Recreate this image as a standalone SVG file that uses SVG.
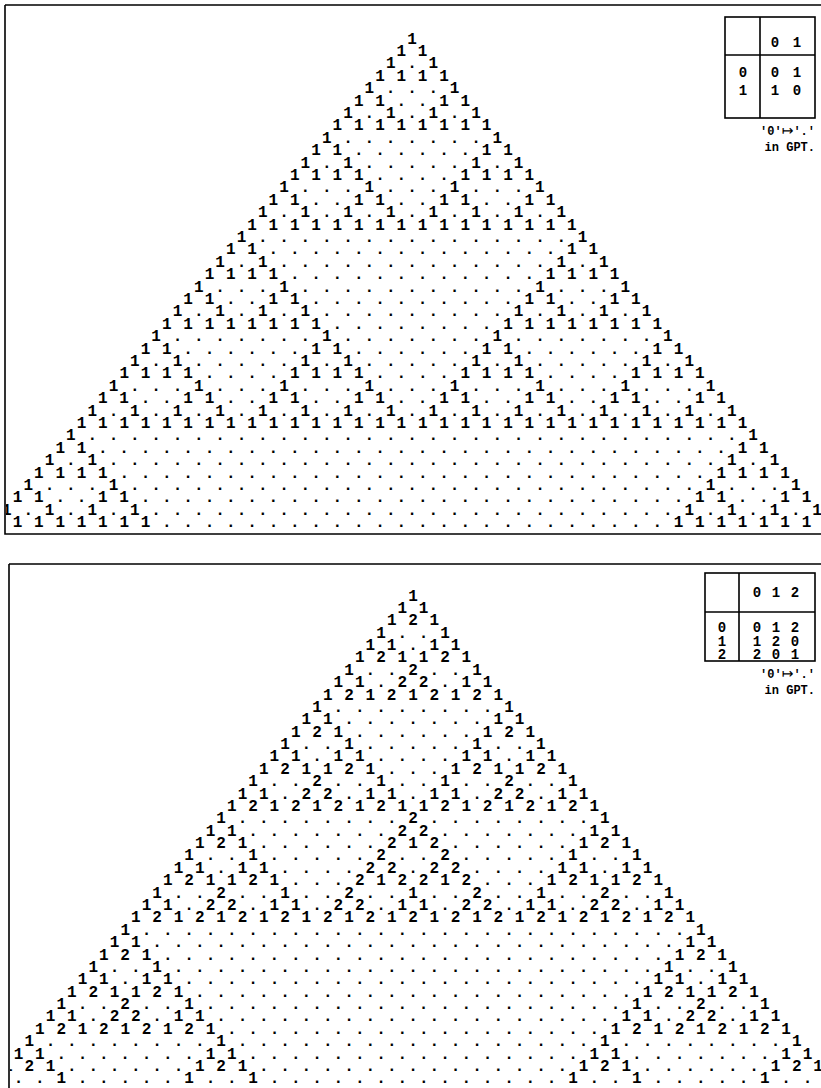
<svg xmlns="http://www.w3.org/2000/svg" width="821" height="1088" viewBox="0 0 821 1088">
<style>
.bg{fill:#fff}
.f{fill:none;stroke:#000;stroke-width:1.6}
.t{font-family:"Liberation Mono","DejaVu Sans Mono",monospace;font-size:16px;font-weight:bold;letter-spacing:11.72px;fill:#000}
.tb{font-family:"Liberation Mono","DejaVu Sans Mono",monospace;font-size:14px;font-weight:bold;fill:#000}
.nt{font-family:"Liberation Mono","DejaVu Sans Mono",monospace;font-size:12px;font-weight:bold;fill:#000}
.ar{font-family:"DejaVu Sans","Liberation Sans",sans-serif;font-size:14px;font-weight:normal}
</style>
<defs>
<clipPath id="c1"><rect x="6" y="6" width="815" height="527"/></clipPath>
<clipPath id="c2"><rect x="10" y="565" width="811" height="523"/></clipPath>
</defs>
<rect class="bg" x="0" y="0" width="821" height="1088"/>
<g id="panel-mod2">
<path class="f" d="M5 5H821M5 5V534H821"/>
<g id="triangle-mod2" class="t" clip-path="url(#c1)">
<text x="407.2" y="43.5">1</text>
<text x="396.54" y="55.9">11</text>
<text x="385.88" y="68.3">1.1</text>
<text x="375.22" y="80.7">1111</text>
<text x="364.56" y="93.1">1...1</text>
<text x="353.9" y="105.5">11..11</text>
<text x="343.24" y="117.9">1.1.1.1</text>
<text x="332.58" y="130.3">11111111</text>
<text x="321.92" y="142.7">1.......1</text>
<text x="311.26" y="155.1">11......11</text>
<text x="300.6" y="167.5">1.1.....1.1</text>
<text x="289.94" y="179.9">1111....1111</text>
<text x="279.28" y="192.3">1...1...1...1</text>
<text x="268.62" y="204.7">11..11..11..11</text>
<text x="257.96" y="217.1">1.1.1.1.1.1.1.1</text>
<text x="247.3" y="229.5">1111111111111111</text>
<text x="236.64" y="241.9">1...............1</text>
<text x="225.98" y="254.3">11..............11</text>
<text x="215.32" y="266.7">1.1.............1.1</text>
<text x="204.66" y="279.1">1111............1111</text>
<text x="194" y="291.5">1...1...........1...1</text>
<text x="183.34" y="303.9">11..11..........11..11</text>
<text x="172.68" y="316.3">1.1.1.1.........1.1.1.1</text>
<text x="162.02" y="328.7">11111111........11111111</text>
<text x="151.36" y="341.1">1.......1.......1.......1</text>
<text x="140.7" y="353.5">11......11......11......11</text>
<text x="130.04" y="365.9">1.1.....1.1.....1.1.....1.1</text>
<text x="119.38" y="378.3">1111....1111....1111....1111</text>
<text x="108.72" y="390.7">1...1...1...1...1...1...1...1</text>
<text x="98.06" y="403.1">11..11..11..11..11..11..11..11</text>
<text x="87.4" y="415.5">1.1.1.1.1.1.1.1.1.1.1.1.1.1.1.1</text>
<text x="76.74" y="427.9">11111111111111111111111111111111</text>
<text x="66.08" y="440.3">1...............................1</text>
<text x="55.42" y="452.7">11..............................11</text>
<text x="44.76" y="465.1">1.1.............................1.1</text>
<text x="34.1" y="477.5">1111............................1111</text>
<text x="23.44" y="489.9">1...1...........................1...1</text>
<text x="12.78" y="502.3">11..11..........................11..11</text>
<text x="2.12" y="514.7">1.1.1.1.........................1.1.1.1</text>
<text x="-8.54" y="527.1">11111111........................11111111</text>
</g>
<g id="table-mod2">
<rect class="f" x="725" y="17" width="90" height="101"/>
<path class="f" d="M760 17V118M725 55H815"/>
<text class="tb" x="775 786 797" y="47" text-anchor="middle">0 1</text>
<text class="tb" x="743" y="77" text-anchor="middle">0</text>
<text class="tb" x="743" y="95" text-anchor="middle">1</text>
<text class="tb" x="775 786 797" y="77" text-anchor="middle">0 1</text>
<text class="tb" x="775 786 797" y="95" text-anchor="middle">1 0</text>
</g>
<g id="note-mod2">
<text class="nt" x="815" y="135" text-anchor="end">'0'<tspan class="ar">↦</tspan>'.'</text>
<text class="nt" x="815" y="151" text-anchor="end">in GPT.</text>
</g>
</g>
<g id="panel-mod3">
<path class="f" d="M9 564H821M9 564V1088"/>
<g id="triangle-mod3" class="t" clip-path="url(#c2)">
<text x="408.2" y="600.5">1</text>
<text x="397.54" y="612.88">11</text>
<text x="386.88" y="625.26">121</text>
<text x="376.22" y="637.64">1..1</text>
<text x="365.56" y="650.02">11.11</text>
<text x="354.9" y="662.4">121121</text>
<text x="344.24" y="674.78">1..2..1</text>
<text x="333.58" y="687.16">11.22.11</text>
<text x="322.92" y="699.54">121212121</text>
<text x="312.26" y="711.92">1........1</text>
<text x="301.6" y="724.3">11.......11</text>
<text x="290.94" y="736.68">121......121</text>
<text x="280.28" y="749.06">1..1.....1..1</text>
<text x="269.62" y="761.44">11.11....11.11</text>
<text x="258.96" y="773.82">121121...121121</text>
<text x="248.3" y="786.2">1..2..1..1..2..1</text>
<text x="237.64" y="798.58">11.22.11.11.22.11</text>
<text x="226.98" y="810.96">121212121121212121</text>
<text x="216.32" y="823.34">1........2........1</text>
<text x="205.66" y="835.72">11.......22.......11</text>
<text x="195" y="848.1">121......212......121</text>
<text x="184.34" y="860.48">1..1.....2..2.....1..1</text>
<text x="173.68" y="872.86">11.11....22.22....11.11</text>
<text x="163.02" y="885.24">121121...212212...121121</text>
<text x="152.36" y="897.62">1..2..1..2..1..2..1..2..1</text>
<text x="141.7" y="910">11.22.11.22.11.22.11.22.11</text>
<text x="131.04" y="922.38">121212121212121212121212121</text>
<text x="120.38" y="934.76">1..........................1</text>
<text x="109.72" y="947.14">11.........................11</text>
<text x="99.06" y="959.52">121........................121</text>
<text x="88.4" y="971.9">1..1.......................1..1</text>
<text x="77.74" y="984.28">11.11......................11.11</text>
<text x="67.08" y="996.66">121121.....................121121</text>
<text x="56.42" y="1009.04">1..2..1....................1..2..1</text>
<text x="45.76" y="1021.42">11.22.11...................11.22.11</text>
<text x="35.1" y="1033.8">121212121..................121212121</text>
<text x="24.44" y="1046.18">1........1.................1........1</text>
<text x="13.78" y="1058.56">11.......11................11.......11</text>
<text x="3.12" y="1070.94">121......121...............121......121</text>
<text x="-7.54" y="1083.32">1..1.....1..1..............1..1.....1..1</text>
</g>
<g id="table-mod3">
<rect class="f" x="705" y="573" width="110" height="88"/>
<path class="f" d="M739 573V661M705 612H815"/>
<text class="tb" x="757 766.5 776 785.5 795" y="597" text-anchor="middle">0 1 2</text>
<text class="tb" x="722" y="632" text-anchor="middle">0</text>
<text class="tb" x="722" y="645.5" text-anchor="middle">1</text>
<text class="tb" x="722" y="659" text-anchor="middle">2</text>
<text class="tb" x="757 766.5 776 785.5 795" y="632" text-anchor="middle">0 1 2</text>
<text class="tb" x="757 766.5 776 785.5 795" y="645.5" text-anchor="middle">1 2 0</text>
<text class="tb" x="757 766.5 776 785.5 795" y="659" text-anchor="middle">2 0 1</text>
</g>
<g id="note-mod3">
<text class="nt" x="815" y="678" text-anchor="end">'0'<tspan class="ar">↦</tspan>'.'</text>
<text class="nt" x="815" y="694" text-anchor="end">in GPT.</text>
</g>
</g>
<g id="connectors"/>
</svg>
